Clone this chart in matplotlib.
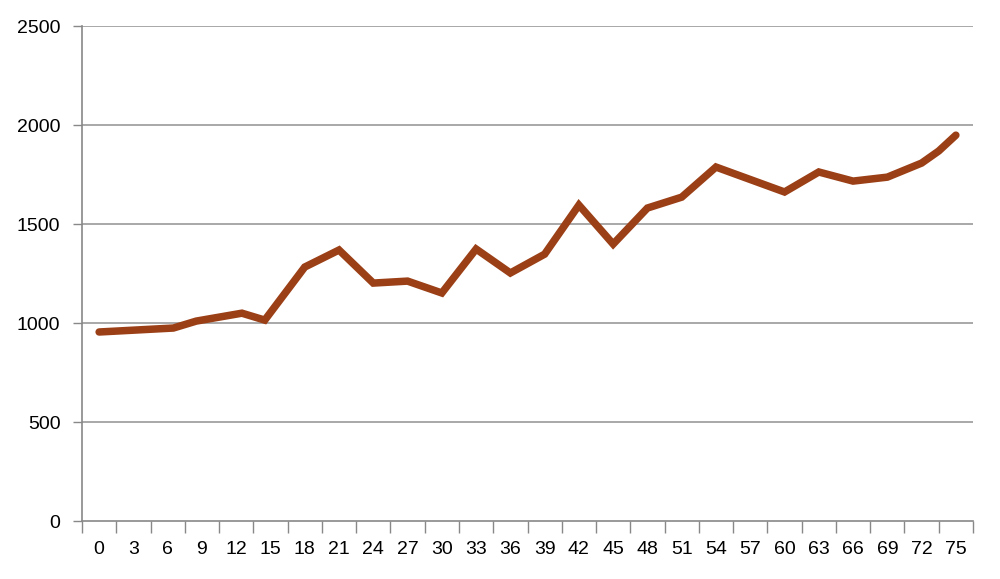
# plot.py
# Brown line chart, 0-75 on the x axis, values 0-2500
# ─────────────────────────────────────────────────────────────

import numpy as np
import matplotlib
matplotlib.use("Agg")
import matplotlib.pyplot as plt

# ─────────────────────────────────────────────────────────────
# DATA
# ─────────────────────────────────────────────────────────────
x_vals = [0, 6.5, 8.5, 10.5, 12.5, 14.5, 18, 21, 24, 27, 30, 33, 36, 39,
          42, 45, 48, 51, 54, 60, 63, 66, 69, 72, 73.5, 75]
y_vals = [955, 975, 1010, 1030, 1050, 1015, 1283, 1369, 1202, 1212, 1152,
          1374, 1253, 1348, 1596, 1399, 1581, 1636, 1788, 1662, 1763, 1717,
          1737, 1808, 1869, 1949]

x_labels = list(range(0, 76, 3))          # 0, 3, ... 75
y_ticks  = [0, 500, 1000, 1500, 2000, 2500]

LINE_COLOR = "#9B3F16"
GRID_COLOR = "#9a9a9a"
FONT = ["Liberation Sans Narrow", "Liberation Sans", "DejaVu Sans"]

# ─────────────────────────────────────────────────────────────
# FIGURE
# ─────────────────────────────────────────────────────────────
plt.rcParams["font.family"] = FONT
fig = plt.figure(figsize=(10, 5.79), dpi=100)
ax = fig.add_axes([0.082, 0.100, 0.891, 0.855])

ax.plot(x_vals, y_vals, color=LINE_COLOR, lw=5.4,
        solid_capstyle="round", solid_joinstyle="miter", zorder=3)

# y axis
ax.set_ylim(0, 2500)
ax.set_yticks(y_ticks)
ax.set_yticklabels([str(v) for v in y_ticks], fontsize=14)
for v in y_ticks[1:]:
    ax.axhline(v, color=GRID_COLOR, lw=1.2, zorder=1)

# x axis: labels centred on values, tick marks between labels
ax.set_xlim(-1.5, 76.5)
ax.set_xticks(np.arange(-1.5, 76.6, 3))
ax.set_xticklabels([])
ax.set_xticks(x_labels, minor=True)
ax.set_xticklabels([str(v) for v in x_labels], minor=True, fontsize=14)

ax.tick_params(axis="x", which="major", direction="out", length=8.5,
               width=1.0, color="#888888")
ax.tick_params(axis="x", which="minor", length=0, pad=14)
ax.tick_params(axis="y", direction="out", length=6.5, width=1.0,
               color="#888888", pad=9)

for side in ["top", "right"]:
    ax.spines[side].set_visible(False)
for side in ["left", "bottom"]:
    ax.spines[side].set_color("#888888")
    ax.spines[side].set_linewidth(1.2)

plt.savefig("out.png", dpi=100)
